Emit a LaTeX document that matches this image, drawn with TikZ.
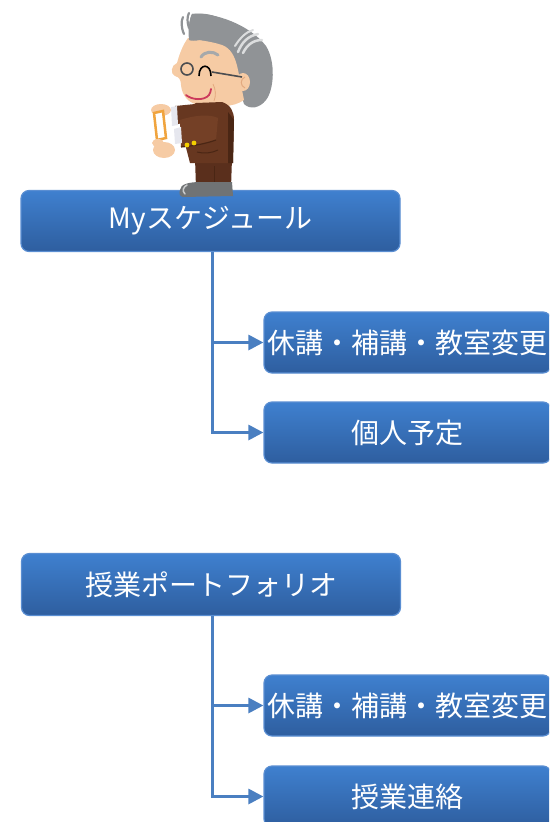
\documentclass[tikz,border=0pt]{standalone}
\usepackage{fontspec}
\newfontfamily\jpfont{Noto Sans CJK JP}
\usetikzlibrary{arrows.meta}

\definecolor{boxtop}{HTML}{3F80CF}
\definecolor{boxbot}{HTML}{2E5E9F}
\definecolor{boxedge}{HTML}{5A8ED2}
\definecolor{linkblue}{HTML}{4A7FC1}
\definecolor{skin}{HTML}{F6CBA4}
\definecolor{skindark}{HTML}{E3A97F}
\definecolor{hair}{HTML}{909396}
\definecolor{hairlight}{HTML}{DCDDDE}
\definecolor{jacket}{HTML}{673720}
\definecolor{jacketdark}{HTML}{4A2614}
\definecolor{jacketlight}{HTML}{744026}
\definecolor{pants}{HTML}{5A2F1C}
\definecolor{shoe}{HTML}{707375}
\definecolor{shoelight}{HTML}{CACBCC}
\definecolor{cardedge}{HTML}{F0A43E}
\definecolor{cuff}{HTML}{E6E7EE}
\definecolor{button}{HTML}{F4D000}
\definecolor{frame}{HTML}{4B4D50}
\definecolor{lips}{HTML}{CC3A5C}

\tikzset{
  box/.style={rounded corners=8pt, draw=boxedge, line width=1.2pt,
    top color=boxtop, bottom color=boxbot, text=white,
    font=\jpfont\fontsize{28}{33}\selectfont, inner sep=0pt},
  parentbox/.style={box, minimum width=379pt, minimum height=61pt},
  childbox/.style={box, minimum width=287pt, minimum height=61pt},
  link/.style={draw=linkblue, line width=3pt,
    -{Triangle[length=15pt,width=15pt]}},
}

\begin{document}
\begin{tikzpicture}[x=1pt,y=-1pt]
\useasboundingbox (0,0) rectangle (549,822);
\clip (0,0) rectangle (549,822);

% ---- first tree: schedule ----
\node[parentbox] (sched) at (210.5,221) {Myスケジュール};
\node[childbox] (schedA) at (407.5,342.5) {休講・補講・教室変更};
\node[childbox] (schedB) at (407.5,432.5) {個人予定};
\draw[link] ([xshift=1.5pt]sched.south) |- (schedB.west);
\draw[link] ([xshift=1.5pt]sched.south |- schedA.west) -- (schedA.west);

% ---- second tree: portfolio ----
\node[parentbox, minimum height=62pt] (port) at (211,584.5) {授業ポートフォリオ};
\node[childbox] (portA) at (407.5,705.5) {休講・補講・教室変更};
\node[childbox] (portB) at (407.5,796.5) {授業連絡};
\draw[link] ([xshift=1pt]port.south) |- (portB.west);
\draw[link] ([xshift=1pt]port.south |- portA.west) -- (portA.west);

% ---- old professor standing on the first box ----
% back hair
\fill[hair] (192,14) .. controls (215,12) and (250,25) .. (266,46)
  .. controls (276,62) and (274,90) .. (266,100)
  .. controls (260,108) and (250,110) .. (244,104)
  -- (236,80) .. controls (234,62) and (230,50) .. (222,46)
  .. controls (210,42) and (198,42) .. (190,40)
  .. controls (188,30) and (189,20) .. (192,14) -- cycle;
% face
\fill[skin] (188,38) .. controls (182,46) and (179,56) .. (177,63)
  .. controls (171,65) and (170,74) .. (175,76)
  .. controls (179,77) and (181,80) .. (181,85)
  .. controls (182,96) and (189,104) .. (200,105)
  .. controls (215,107) and (233,108) .. (244,100)
  -- (238,70) .. controls (235,55) and (230,48) .. (222,45)
  .. controls (210,41) and (196,40) .. (188,38) -- cycle;
% cheek wrinkle
\draw[skindark, line width=0.8pt] (213,84) .. controls (216,90) and (216,96) .. (214,101);
% ear
\fill[skin] (243,82) ellipse [x radius=7, y radius=9];
\draw[skindark, line width=1pt] (245,77) .. controls (240,79) and (240,86) .. (245,88);
% hair over the forehead
\fill[hair] (192,14) .. controls (205,12) and (220,16) .. (230,24)
  .. controls (222,30) and (210,36) .. (200,40)
  .. controls (195,41) and (191,41) .. (189,40)
  .. controls (188,30) and (189,20) .. (192,14) -- cycle;
% hair highlights
\draw[hairlight, line width=2.5pt, line cap=round]
  (238,52) .. controls (242,42) and (248,36) .. (258,34);
\draw[hairlight, line width=2.5pt, line cap=round]
  (243,53) .. controls (247,45) and (253,40) .. (262,40);
\draw[hairlight, line width=2pt, line cap=round]
  (235,46) .. controls (240,38) and (246,32) .. (253,30);
% wisps
\draw[hair, line width=2.2pt, line cap=round] (184,34) .. controls (181,27) and (181,21) .. (183,17);
\draw[hair, line width=2.2pt, line cap=round] (189,28) .. controls (187,22) and (187,17) .. (189,13);
% eyebrow
\draw[hair!80, line width=3pt, line cap=round] (201,57) .. controls (205,51) and (213,51) .. (218,55);
% glasses and closed eye
\draw[frame, line width=1.6pt] (187,69) circle [radius=6];
\draw[frame, line width=1.6pt] (212,72) -- (242,77);
\draw[black, line width=1.6pt] (199,76) .. controls (199,63) and (211,63) .. (211,76);
% smile
\draw[lips, line width=1.8pt, line cap=round] (186,95) .. controls (192,100) and (204,101) .. (209,95)
  .. controls (210,93) and (211,91) .. (211,89);

% trousers
\fill[pants] (195,158) -- (232,158) -- (231,188) -- (196,188) -- cycle;
\draw[jacketdark, line width=1pt] (214,166) -- (214,186);
% shoe
\fill[shoe] (180,190) .. controls (180,184) and (190,182) .. (200,182) -- (232,182)
  -- (233,196) -- (183,197) .. controls (179,196) and (179,193) .. (180,190) -- cycle;
\draw[shoelight, line width=1.5pt, line cap=round] (187,185) .. controls (183,187) and (182,191) .. (185,194);
% jacket body
\fill[jacket] (196,103) -- (222,102) .. controls (231,105) and (234,112) .. (234,120)
  -- (233,163) -- (190,163) -- (184,140) -- (182,112) -- cycle;
\fill[jacketdark] (228,112) -- (234,120) -- (233,163) -- (228,163) -- cycle;
\draw[jacketdark, line width=1pt] (197,152) .. controls (204,154) and (212,153) .. (218,150);
% far arm
\fill[jacket] (175,106) -- (205,103) -- (212,118) -- (178,124) -- cycle;
\fill[cuff] (171,107) -- (177,106) -- (178,125) -- (172,126) -- cycle;
% near sleeve
\fill[jacketlight] (180,120) .. controls (195,115) and (210,114) .. (218,118)
  -- (216,140) .. controls (205,144) and (190,146) .. (181,147) -- cycle;
\draw[jacketdark, line width=1.2pt] (181,147) .. controls (192,146) and (205,144) .. (216,140);
\fill[cuff] (174,129) -- (181,127) -- (182,143) -- (175,144) -- cycle;
\fill[button] (187,145) circle [radius=2.4];
\fill[button] (194,143) circle [radius=2.4];
% hands and card
\fill[skin] (161,110) ellipse [x radius=10, y radius=6];
\draw[cardedge, line width=2.5pt, fill=white] (154,113) -- (163,111) -- (166,138) -- (157,140) -- cycle;
\fill[skin] (164,150) ellipse [x radius=11, y radius=8];
\fill[skin] (158,143) ellipse [x radius=6, y radius=4];
\end{tikzpicture}
\end{document}
